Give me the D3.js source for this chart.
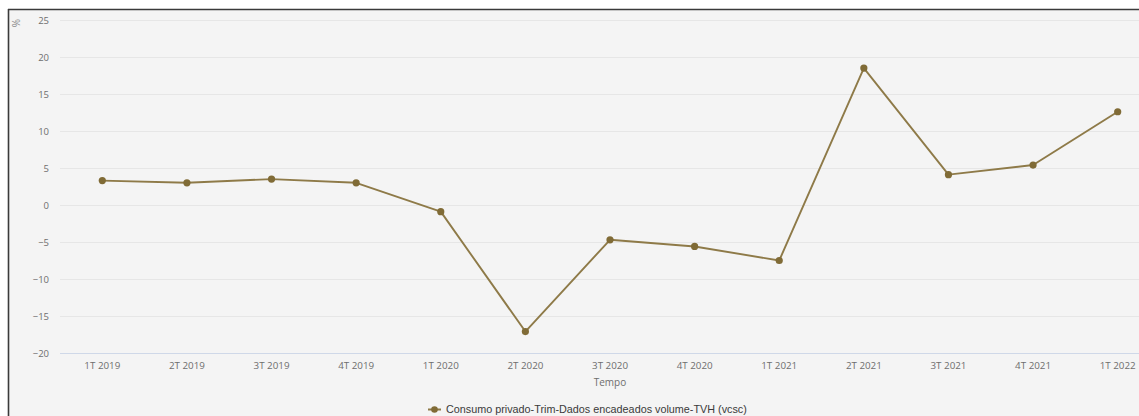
<!DOCTYPE html>
<html>
<head>
<meta charset="utf-8">
<script src="https://cdn.jsdelivr.net/npm/d3@7"></script>
<style>
  html, body { margin: 0; padding: 0; background: #ffffff; }
  svg { display: block; }
</style>
</head>
<body>
<svg id="chart" width="1139" height="416"></svg>
<script>
// Quarterly private consumption, chained volume, year-on-year change (%)
const quarters = ["1T 2019", "2T 2019", "3T 2019", "4T 2019",
                  "1T 2020", "2T 2020", "3T 2020", "4T 2020",
                  "1T 2021", "2T 2021", "3T 2021", "4T 2021", "1T 2022"];
const consumo = [3.3, 3.0, 3.5, 3.0, -0.9, -17.1, -4.7, -5.6, -7.5, 18.5, 4.1, 5.4, 12.6];
const yTicks = [-20, -15, -10, -5, 0, 5, 10, 15, 20, 25];
const seriesName = "Consumo privado-Trim-Dados encadeados volume-TVH (vcsc)";
const axisTitleX = "Tempo";
const axisTitleY = "%";

const svg = d3.select("#chart");
const W = 1139, H = 416;
const plot = { left: 60, right: 1160, top: 20, bottom: 353 };
const lineColor = "#8e7a48";
const dotColor = "#806b36";
const font = "'Open Sans', 'DejaVu Sans', sans-serif";

// panel background and frame
svg.append("rect").attr("x", 9).attr("y", 10).attr("width", W).attr("height", H)
  .attr("fill", "#f4f4f4");
svg.append("line").attr("x1", 8.5).attr("x2", 8.5).attr("y1", 9).attr("y2", H)
  .attr("stroke", "#3a3a3a").attr("stroke-width", 1.6);
svg.append("line").attr("x1", 8).attr("x2", W).attr("y1", 9.5).attr("y2", 9.5)
  .attr("stroke", "#3a3a3a").attr("stroke-width", 1.6);

const x = d3.scaleBand().domain(quarters).range([plot.left, plot.right]);
const y = d3.scaleLinear().domain([-20, 25]).range([plot.bottom, plot.top]);

// horizontal grid
svg.append("g").selectAll("line").data(yTicks.filter(t => t !== -20)).join("line")
  .attr("x1", plot.left).attr("x2", plot.right)
  .attr("y1", d => Math.round(y(d)) + 0.5).attr("y2", d => Math.round(y(d)) + 0.5)
  .attr("stroke", "#e6e6e6").attr("stroke-width", 1);

// y axis labels
const yAxis = d3.axisLeft(y).tickValues(yTicks).tickSize(0).tickPadding(0)
  .tickFormat(d3.format("d"));
const gy = svg.append("g").attr("transform", `translate(${plot.left - 11},0)`).call(yAxis);
gy.select(".domain").remove();
gy.selectAll("text").attr("font-family", font).attr("font-size", 9.5)
  .attr("fill", "#6e6e6e").attr("dy", "0.32em");

// x axis baseline and labels
const xAxis = d3.axisBottom(x).tickSize(0).tickPadding(0);
const gx = svg.append("g").attr("transform", `translate(0,${plot.bottom})`).call(xAxis);
gx.select(".domain").attr("stroke", "#cfd8e8").attr("stroke-width", 1.2)
  .attr("d", `M${plot.left},0.5H${plot.right}`);
gx.selectAll("text").attr("font-family", font).attr("font-size", 9.8)
  .attr("fill", "#6e6e6e").attr("y", 9).attr("dy", "0.71em");

// axis titles
svg.append("text").attr("x", (plot.left + plot.right) / 2).attr("y", 386)
  .attr("text-anchor", "middle").attr("font-family", font).attr("font-size", 10)
  .attr("fill", "#6e6e6e").text(axisTitleX);
svg.append("text").attr("transform", "translate(16,23) rotate(-90)")
  .attr("text-anchor", "middle").attr("dominant-baseline", "central")
  .attr("font-family", font).attr("font-size", 10)
  .attr("fill", "#8a8a8a").text(axisTitleY);

// series line and markers
const cx = (d, i) => x(quarters[i]) + x.bandwidth() / 2;
const line = d3.line().x((d, i) => cx(d, i)).y(d => y(d));
svg.append("path").datum(consumo).attr("d", line)
  .attr("fill", "none").attr("stroke", lineColor).attr("stroke-width", 1.9)
  .attr("stroke-linejoin", "round");
svg.append("g").selectAll("circle").data(consumo).join("circle")
  .attr("cx", (d, i) => cx(d, i)).attr("cy", d => y(d)).attr("r", 3.6)
  .attr("fill", dotColor);

// legend
const lg = svg.append("g").attr("transform", "translate(428,409.5)");
lg.append("line").attr("x1", 0).attr("x2", 13).attr("y1", 0).attr("y2", 0)
  .attr("stroke", lineColor).attr("stroke-width", 2);
lg.append("circle").attr("cx", 6.5).attr("cy", 0).attr("r", 3.3).attr("fill", dotColor);
lg.append("text").attr("x", 18).attr("y", 0).attr("dy", "0.35em")
  .attr("font-family", "'Liberation Sans', Arial, sans-serif").attr("font-size", 10.8)
  .attr("fill", "#3a3a3a").text(seriesName);
</script>
</body>
</html>
